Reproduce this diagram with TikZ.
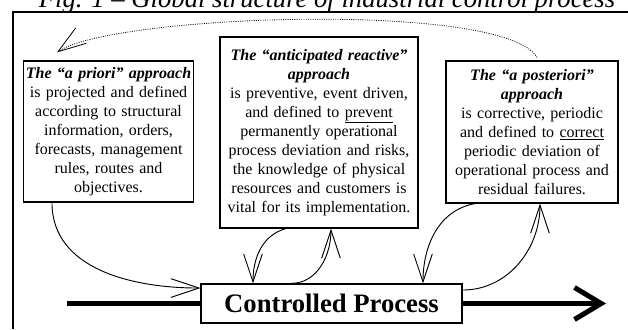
\documentclass[tikz,border=0pt]{standalone}
\usepackage{fontspec}
\setmainfont{Liberation Serif}
\usetikzlibrary{arrows.meta}

\begin{document}
\begin{tikzpicture}[x=0.75pt,y=0.75pt,
    approach/.style={draw,line width=0.9pt,fill=white,align=center,inner xsep=1pt,inner ysep=3pt,
      font=\fontsize{12}{14.25}\selectfont},
    link/.style={line width=0.7pt,-{Straight Barb[length=21pt,width=14pt]}},
    flow/.style={line width=3.75pt},
  ]
  \useasboundingbox (0,0) rectangle (628,329);
  \begin{scope}
    \clip (0,0) rectangle (628,329);
    \node[anchor=base,inner sep=0pt,font=\fontsize{20}{24}\selectfont\itshape] (caption)
      at (327,321) {Fig. 1 – Global structure of industrial control process};
  \end{scope}
  \draw[line width=1.5pt] (13,0) |- (628,316.5);
  % the three approaches
  \node[approach,text width=126pt,minimum height=105.75pt] (prior) at (108.5,197.5)
    {\textbf{\textit{The “a priori” approach}}\\
     is projected and defined\\
     according to structural\\
     information, orders,\\
     forecasts, management\\
     rules, routes and\\
     objectives.};
  \node[approach,text width=146.5pt,minimum height=143.25pt] (reactive) at (319,196.5)
    {\textbf{\textit{The “anticipated reactive”}}\\
     \textbf{\textit{approach}}\\
     is preventive, event driven,\\
     and defined to \underline{prevent}\\
     permanently operational\\
     process deviation and risks,\\
     the knowledge of physical\\
     resources and customers is\\
     vital for its implementation.};
  \node[approach,text width=127pt,minimum height=106.5pt] (posterior) at (532,197)
    {\textbf{\textit{The “a posteriori”}}\\
     \textbf{\textit{approach}}\\
     is corrective, periodic\\
     and defined to \underline{correct}\\
     periodic deviation of\\
     operational process and\\
     residual failures.};
  % the process line
  \node[draw,line width=0.9pt,fill=white,minimum width=195.75pt,minimum height=29.25pt,
    font=\fontsize{20}{24}\selectfont\bfseries] (proc) at (331.5,25.5) {Controlled Process};
  \coordinate (feed) at (67,25.5);
  \coordinate (yield) at (606,25.5);
  \draw[flow] (feed) -- (proc.west);
  \draw[flow,-{Straight Barb[length=20pt,width=24pt]}] (proc.east) -- (yield);
  % loops
  \draw[link] ([xshift=-42.4pt]prior.south) to[out=-90,in=180] ([yshift=11.6pt]proc.west);
  \draw[link] ([xshift=-24.75pt]reactive.south) to[out=195,in=90] ([xshift=-58.9pt]proc.north);
  \draw[link] ([xshift=-30.4pt]proc.north) to[out=0,in=-90] ([xshift=9pt]reactive.south);
  \draw[link] ([xshift=-42.75pt]posterior.south) to[out=190,in=90] ([xshift=68.6pt]proc.north);
  \draw[link] ([yshift=10.1pt]proc.east) to[out=0,in=-90] ([xshift=6pt]posterior.south);
  \draw[link,densely dotted,line width=0.6pt]
    ([xshift=3.75pt,yshift=2.25pt]posterior.north) to[out=120,in=35,looseness=0.35]
    ([xshift=-38.6pt,yshift=6pt]prior.north);
\end{tikzpicture}
\end{document}
